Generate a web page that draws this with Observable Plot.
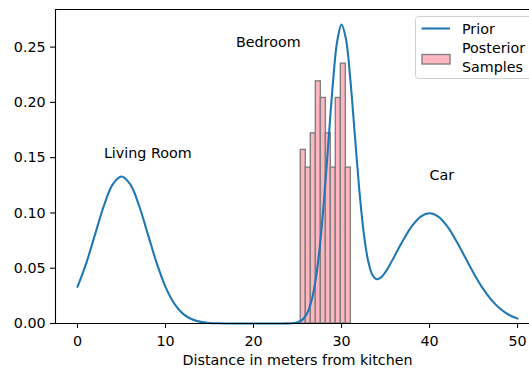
<!DOCTYPE html>
<html>
<head>
<meta charset="utf-8">
<script src="https://cdn.jsdelivr.net/npm/d3@7"></script>
<script src="https://cdn.jsdelivr.net/npm/@observablehq/plot@0.6"></script>
<style>
  html, body { margin: 0; padding: 0; background: #fff; }
  #wrap { position: relative; width: 529px; height: 368px; overflow: hidden; font-family: "DejaVu Sans", sans-serif; }
  #legend { position: absolute; left: 0; top: 0; }
</style>
</head>
<body>
<div id="wrap"></div>
<script>
// ---- data ----
const priorX = [0,1,2,3,4,5,6,7,8,9,10,11,12,13,14,15,16,17,18,19,20,21,22,23,24,24.5,
  25,25.5,26,26.5,27,27.5,28,28.5,29,29.5,30,30.5,31,31.5,32,32.5,33,33.5,34,34.5,35,35.5,36,
  37,38,39,40,41,42,43,44,45,46,47,48,49,50];
const priorY = [0.03316,0.05467,0.08066,0.10648,0.12579,0.13298,0.12579,0.10648,0.08066,0.05467,
  0.03316,0.01800,0.00874,0.00380,0.00148,0.00051,0.00016,0.00004,0.00001,0,0,0,0,0.00001,0.00012,0.00038,
  0.00112,0.00310,0.00782,0.01781,0.03650,0.06710,0.11050,0.16290,0.21520,0.25480,0.27030,0.25750,
  0.22090,0.17170,0.12280,0.08350,0.05760,0.04410,0.04000,0.04170,0.04670,0.05330,0.06060,
  0.07530,0.08800,0.09670,0.09970,0.09670,0.08800,0.07530,0.06050,0.04570,0.03240,0.02160,
  0.01350,0.00790,0.00440];
const binEdges = [25.37,25.94,26.51,27.08,27.65,28.22,28.78,29.35,29.92,30.49,31.06];
const binDensity = [0.157,0.141,0.172,0.219,0.204,0.172,0.141,0.204,0.235,0.141];
const annLabels = ["Living Room","Bedroom","Car"];
const annX = [3,18,40];
const annY = [0.15,0.25,0.13];
const xTicks = [0,10,20,30,40,50];
const yTicks = [0,0.05,0.10,0.15,0.20,0.25];
const xLabel = "Distance in meters from kitchen";
const legendLabels = ["Prior","Posterior\nSamples"];

// ---- build tables ----
const prior = priorX.map((x,i)=>({x, y: priorY[i]}));
const bins = binDensity.map((d,i)=>({x1: binEdges[i], x2: binEdges[i+1], d}));
const notes = annLabels.map((t,i)=>({t, x: annX[i], y: annY[i]}));

const axisLimits = [-2.5, 52.5];      // full matplotlib x-limits (right part is cropped)
const xDomain = [-2.5, 51.36];        // visible portion
const yDomain = [0, 0.284];
const FS = 14.3;
const lineBlue = "#1f77b4";

const chart = Plot.plot({
  width: 529, height: 368,
  marginLeft: 55, marginRight: 0, marginTop: 9, marginBottom: 45,
  style: {fontFamily: "DejaVu Sans", fontSize: FS + "px", color: "black", background: "white"},
  x: {domain: xDomain, label: null},
  y: {domain: yDomain, label: null},
  marks: [
    Plot.rect(bins, {x1: "x1", x2: "x2", y1: 0, y2: "d", fill: "#ffb6c1", stroke: "#808080", strokeWidth: 1.39}),
    Plot.line(prior, {x: "x", y: "y", stroke: lineBlue, strokeWidth: 2.08, curve: "catmull-rom"}),
    Plot.text(notes, {x: "x", y: "y", text: "t", textAnchor: "start", lineAnchor: "bottom", fontSize: FS, fill: "black"}),
    Plot.ruleY([yDomain[0]], {stroke: "black", strokeWidth: 1.1}),
    Plot.ruleY([yDomain[1]], {stroke: "black", strokeWidth: 1.1}),
    Plot.ruleX([xDomain[0]], {stroke: "black", strokeWidth: 1.1}),
    Plot.axisX({ticks: xTicks, tickFormat: d => String(d), tickSize: 4.9, tickPadding: 7, fontSize: FS, label: null, strokeWidth: 1.1}),
    Plot.axisY({ticks: yTicks, tickFormat: d3.format(".2f"), tickSize: 4.9, tickPadding: 4.9, fontSize: FS, label: null, strokeWidth: 1.1}),
    Plot.text([xLabel], {x: [(axisLimits[0] + axisLimits[1]) / 2], frameAnchor: "bottom", dy: 41, lineAnchor: "bottom", fontSize: FS, fill: "black"})
  ]
});
document.getElementById("wrap").appendChild(chart);

// ---- legend overlay ----
const lg = d3.select("#wrap").append("svg").attr("id","legend")
  .attr("width", 529).attr("height", 368)
  .style("position","absolute").style("left","0px").style("top","0px")
  .attr("font-family","DejaVu Sans").attr("font-size", FS);
lg.append("rect").attr("x", 415.5).attr("y", 16.5).attr("width", 118).attr("height", 62)
  .attr("rx", 3).attr("fill", "rgba(255,255,255,0.8)").attr("stroke", "#d0d0d0").attr("stroke-width", 1);
lg.append("line").attr("x1", 421.5).attr("x2", 450).attr("y1", 28.5).attr("y2", 28.5)
  .attr("stroke", lineBlue).attr("stroke-width", 2.08);
lg.append("text").attr("x", 462).attr("y", 34).text(legendLabels[0]);
lg.append("rect").attr("x", 422).attr("y", 54.5).attr("width", 28).attr("height", 9.5)
  .attr("fill", "#ffb6c1").attr("stroke", "#808080").attr("stroke-width", 1.39);
const parts = legendLabels[1].split("\n");
lg.append("text").attr("x", 462).attr("y", 53).text(parts[0]);
lg.append("text").attr("x", 462).attr("y", 72).text(parts[1]);
</script>
</body>
</html>
